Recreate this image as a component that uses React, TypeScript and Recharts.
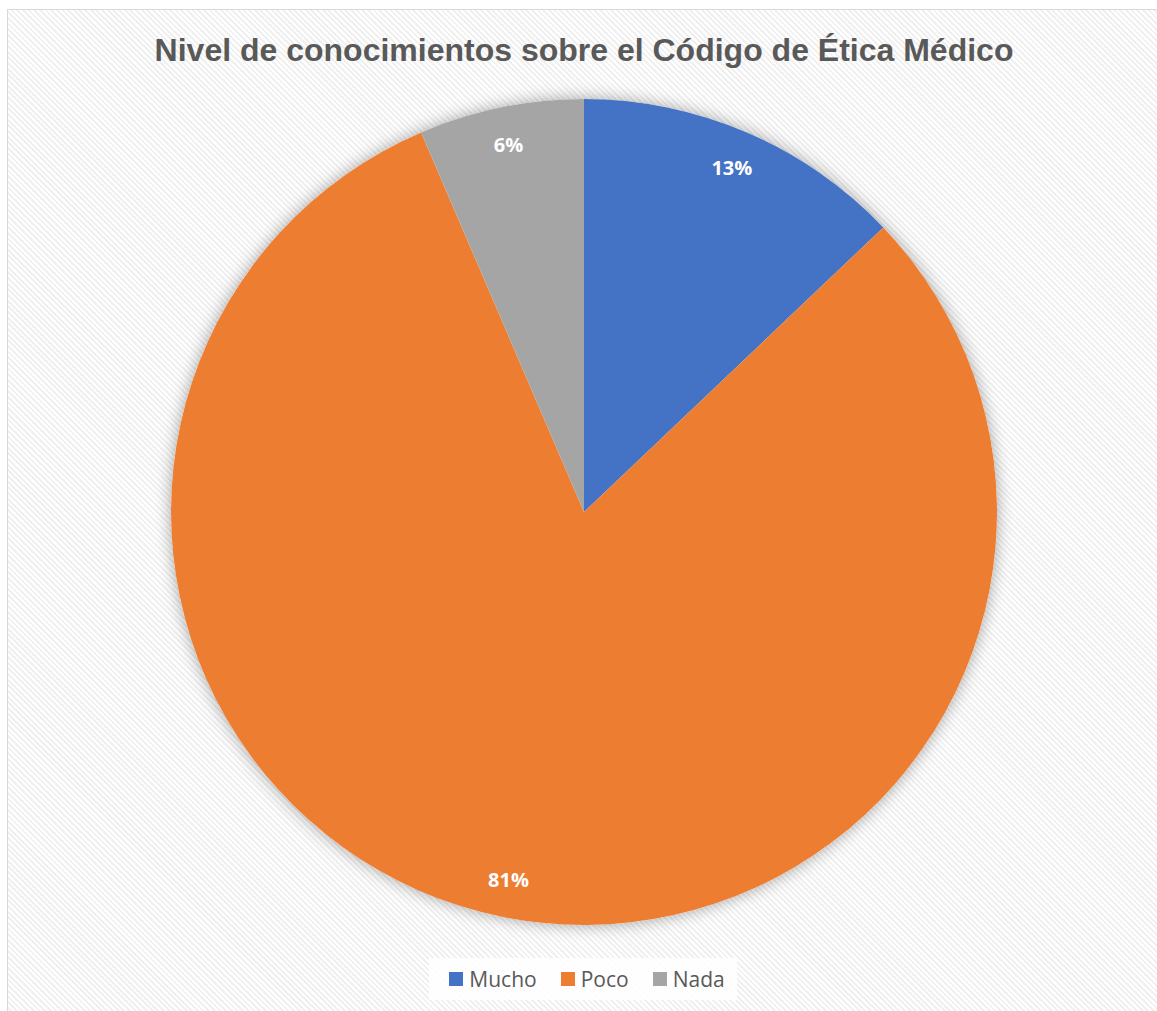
import { PieChart, Pie, Cell, Legend } from "recharts";

// respuestas: 8 / 50 / 4 de 62 encuestados
const categories = ["Mucho", "Poco", "Nada"];
const counts = [8, 50, 4];
const colors = ["#4472C4", "#ED7D31", "#A5A5A5"];

const title = "Nivel de conocimientos sobre el Código de Ética Médico";

const data = categories.map((name, i) => ({ name, value: counts[i] }));
const backdrop = [{ name: "fondo", value: 1 }];

const RADIAN = Math.PI / 180;

function renderLabel(props: any) {
  const { cx, cy, midAngle, outerRadius, percent } = props;
  const r = outerRadius * 0.908;
  const x = cx + r * Math.cos(-midAngle * RADIAN);
  const y = cy + r * Math.sin(-midAngle * RADIAN);
  return (
    <text
      x={x}
      y={y}
      fill="#fff"
      textAnchor="middle"
      dominantBaseline="central"
      style={{ fontFamily: "'Open Sans', sans-serif", fontWeight: 700, fontSize: 20 }}
    >
      {`${Math.round(percent * 100)}%`}
    </text>
  );
}

function LegendBox() {
  return (
    <div style={{ display: "flex", justifyContent: "center" }}>
      <div
        style={{
          display: "flex",
          alignItems: "center",
          background: "rgba(255,255,255,0.85)",
          padding: "7px 12px 7px 20px",
          fontFamily: "'Open Sans', sans-serif",
          fontSize: 21,
          color: "#595959",
        }}
      >
        {categories.map((c, i) => (
          <div key={c} style={{ display: "flex", alignItems: "center", marginRight: i < 2 ? 24 : 0 }}>
            <span style={{ width: 14, height: 14, background: colors[i], marginRight: 6, display: "inline-block" }} />
            <span>{c}</span>
          </div>
        ))}
      </div>
    </div>
  );
}

export default function App() {
  return (
    <>
      <style>{`body{margin:0;overflow:hidden}`}</style>
      <div
        style={{
          position: "absolute",
          left: 7,
          top: 9,
          width: 1150,
          height: 1002,
          border: "1px solid #d9d9d9",
          background: "repeating-linear-gradient(45deg, #ffffff 0px, #ffffff 2px, #f0f0f0 2px, #f0f0f0 4px)",
        }}
      >
        <div
          style={{
            position: "absolute",
            left: 0,
            width: 1152,
            top: 22,
            textAlign: "center",
            fontFamily: "'Liberation Sans', Arial, sans-serif",
            fontWeight: 700,
            fontSize: 32,
            color: "#595959",
          }}
        >
          {title}
        </div>
        <PieChart width={1150} height={1002} margin={{ top: 0, right: 0, bottom: 0, left: 0 }}>
          <Pie
            data={backdrop}
            dataKey="value"
            cx={576}
            cy={502}
            outerRadius={413}
            stroke="none"
            isAnimationActive={false}
            legendType="none"
          >
            <Cell fill="#ffffff" style={{ filter: "drop-shadow(0 0 8px rgba(0,0,0,0.35))" }} />
          </Pie>
          <Pie
            data={data}
            dataKey="value"
            nameKey="name"
            cx={576}
            cy={502}
            outerRadius={413}
            startAngle={90}
            endAngle={-270}
            stroke="none"
            label={renderLabel}
            labelLine={false}
            isAnimationActive={false}
          >
            {data.map((d, i) => (
              <Cell key={d.name} fill={colors[i]} />
            ))}
          </Pie>
          <Legend
            verticalAlign="bottom"
            content={() => <LegendBox />}
            wrapperStyle={{ bottom: 12 }}
          />
        </PieChart>
      </div>
    </>
  );
}
